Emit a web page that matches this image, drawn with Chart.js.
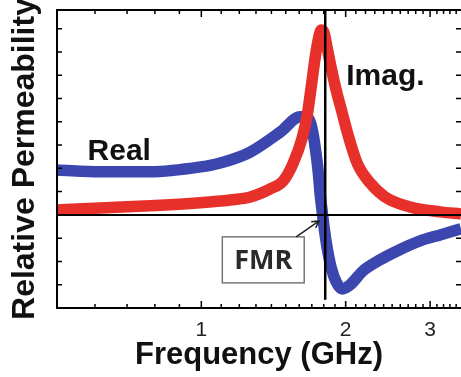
<!DOCTYPE html>
<html>
<head>
<meta charset="utf-8">
<script src="https://cdn.jsdelivr.net/npm/chart.js@4.4.1/dist/chart.umd.min.js"></script>
<style>
html, body { margin: 0; padding: 0; background: #fff; }
#wrap { width: 461px; height: 377px; position: relative; }
</style>
</head>
<body>
<div id="wrap"><canvas id="fmrChart"></canvas></div>
<script>
// Values (frequency in GHz, permeability in tick units)
const realFreq = [0.501, 0.616, 0.783, 0.995, 1.095, 1.265, 1.461, 1.608, 1.654, 1.687, 1.712, 1.736, 1.753, 1.770, 1.787, 1.804, 1.830, 1.866, 1.911, 1.967, 2.044, 2.175, 2.360, 2.561, 2.859, 3.147, 3.48];
const realPerm = [1.93, 1.85, 1.85, 2.06, 2.23, 2.70, 3.56, 4.21, 4.21, 3.99, 3.43, 2.58, 1.85, 0.86, 0.13, -0.56, -1.42, -2.27, -2.88, -3.18, -3.00, -2.40, -1.93, -1.55, -1.12, -0.86, -0.60];

const imagFreq = [0.501, 0.616, 0.783, 0.995, 1.149, 1.265, 1.393, 1.482, 1.555, 1.623, 1.663, 1.695, 1.728, 1.753, 1.778, 1.804, 1.830, 1.866, 1.911, 1.967, 2.015, 2.113, 2.249, 2.417, 2.725, 3.147, 3.48];
const imagPerm = [0.21, 0.30, 0.39, 0.52, 0.64, 0.77, 1.12, 1.46, 2.23, 3.30, 4.29, 5.49, 6.78, 7.51, 7.94, 7.81, 7.17, 6.31, 5.36, 4.38, 3.56, 2.23, 1.37, 0.77, 0.34, 0.13, 0.04];

const xTickLabels = [1, 2, 3];
const xMinorTicks = [0.6, 0.7, 0.8, 0.9, 1.1, 1.2, 1.3, 1.4, 1.5, 1.6, 1.7, 1.8, 1.9,
                     2.1, 2.2, 2.3, 2.4, 2.5, 2.6, 2.7, 2.8, 2.9, 3.1, 3.2, 3.3, 3.4];
const yTicks = [-3, -2, -1, 0, 1, 2, 3, 4, 5, 6, 7, 8];
const fmrFreq = 1.813;

const FONT = '"Liberation Sans", Arial, sans-serif';

function toPoints(xs, ys) {
    return xs.map((x, i) => ({ x: x, y: ys[i] }));
}

// Frame, inward ticks, reference lines and labels
const decorations = {
    id: 'decorations',
    afterDatasetsDraw(chart) {
        const ctx = chart.ctx;
        const area = chart.chartArea;
        const xs = chart.scales.x;
        const ys = chart.scales.y;
        ctx.save();
        ctx.strokeStyle = '#000';

        // zero line
        const y0 = ys.getPixelForValue(0);
        ctx.lineWidth = 2;
        ctx.beginPath();
        ctx.moveTo(area.left, y0);
        ctx.lineTo(area.right, y0);
        ctx.stroke();

        // FMR line
        const xf = xs.getPixelForValue(fmrFreq);
        ctx.lineWidth = 2.5;
        ctx.beginPath();
        ctx.moveTo(xf, area.top);
        ctx.lineTo(xf, ys.getPixelForValue(-3.65));
        ctx.stroke();

        // frame (right edge sits just off the canvas)
        ctx.lineWidth = 2;
        ctx.beginPath();
        ctx.moveTo(area.right + 2, area.top);
        ctx.lineTo(area.left, area.top);
        ctx.lineTo(area.left, area.bottom);
        ctx.lineTo(area.right + 2, area.bottom);
        ctx.stroke();

        // ticks
        ctx.lineWidth = 1.5;
        ctx.beginPath();
        const xTick = (v, len) => {
            const p = xs.getPixelForValue(v);
            ctx.moveTo(p, area.bottom);
            ctx.lineTo(p, area.bottom - len);
            ctx.moveTo(p, area.top);
            ctx.lineTo(p, area.top + len);
        };
        xMinorTicks.forEach(v => xTick(v, 4));
        xTickLabels.forEach(v => xTick(v, 7));
        yTicks.forEach(v => {
            const p = ys.getPixelForValue(v);
            ctx.moveTo(area.left, p);
            ctx.lineTo(area.left + 5, p);
            ctx.moveTo(area.right, p);
            ctx.lineTo(area.right - 5, p);
        });
        ctx.stroke();

        // curve names
        ctx.fillStyle = '#111';
        ctx.font = 'bold 30px ' + FONT;
        ctx.textAlign = 'left';
        ctx.textBaseline = 'alphabetic';
        ctx.fillText('Real', xs.getPixelForValue(0.579), ys.getPixelForValue(2.36));
        ctx.fillText('Imag.', xs.getPixelForValue(2.005), ys.getPixelForValue(5.58));

        // FMR box
        const bl = xs.getPixelForValue(1.106), br = xs.getPixelForValue(1.639);
        const bt = ys.getPixelForValue(-0.944), bb = ys.getPixelForValue(-2.92);
        ctx.fillStyle = '#fff';
        ctx.fillRect(bl, bt, br - bl, bb - bt);
        ctx.strokeStyle = '#777';
        ctx.lineWidth = 1.5;
        ctx.strokeRect(bl, bt, br - bl, bb - bt);
        ctx.fillStyle = '#2a2a2a';
        ctx.font = 'bold 27px "Open Sans", "Noto Sans", sans-serif';
        ctx.textAlign = 'center';
        ctx.textBaseline = 'middle';
        ctx.fillText('FMR', (bl + br) / 2, (bt + bb) / 2 + 1);

        // arrow to the crossing
        const ax0 = xs.getPixelForValue(1.577), ay0 = ys.getPixelForValue(-0.944);
        const ax1 = xs.getPixelForValue(1.761), ay1 = ys.getPixelForValue(-0.258);
        const ang = Math.atan2(ay1 - ay0, ax1 - ax0);
        ctx.strokeStyle = '#222';
        ctx.lineWidth = 1.5;
        ctx.beginPath();
        ctx.moveTo(ax0, ay0);
        ctx.lineTo(ax1, ay1);
        ctx.moveTo(ax1 - 8 * Math.cos(ang - 0.5), ay1 - 8 * Math.sin(ang - 0.5));
        ctx.lineTo(ax1, ay1);
        ctx.lineTo(ax1 - 8 * Math.cos(ang + 0.5), ay1 - 8 * Math.sin(ang + 0.5));
        ctx.stroke();

        ctx.restore();
    }
};

const chart = new Chart(document.getElementById('fmrChart'), {
    type: 'scatter',
    data: {
        datasets: [
            {
                label: 'Imag.',
                data: toPoints(imagFreq, imagPerm),
                showLine: true,
                borderColor: '#e8302a',
                borderWidth: 11.5,
                pointRadius: 0,
                cubicInterpolationMode: 'monotone',
                borderJoinStyle: 'round',
                clip: 0,
                order: 0
            },
            {
                label: 'Real',
                data: toPoints(realFreq, realPerm),
                showLine: true,
                borderColor: '#3b46ae',
                borderWidth: 11.5,
                pointRadius: 0,
                cubicInterpolationMode: 'monotone',
                borderJoinStyle: 'round',
                clip: 0,
                order: 1
            }
        ]
    },
    options: {
        responsive: true,
        maintainAspectRatio: false,
        devicePixelRatio: 1,
        animation: false,
        layout: { padding: { top: 10, right: 0, bottom: 0, left: 0 } },
        plugins: {
            legend: { display: false },
            tooltip: { enabled: false }
        },
        scales: {
            x: {
                type: 'logarithmic',
                min: 0.5,
                max: 3.48,
                grid: { display: false, drawTicks: false },
                border: { display: false },
                afterBuildTicks: s => { s.ticks = xTickLabels.map(v => ({ value: v })); },
                afterFit: s => { s.height = 69; },
                ticks: {
                    autoSkip: false,
                    maxRotation: 0,
                    padding: 10,
                    color: '#222',
                    font: { family: FONT, size: 21 },
                    callback: v => (xTickLabels.includes(v) ? String(v) : '')
                },
                title: {
                    display: true,
                    text: 'Frequency (GHz)',
                    color: '#111',
                    font: { family: FONT, size: 31, weight: 'bold' },
                    padding: { top: 0, bottom: 3 }
                }
            },
            y: {
                min: -4,
                max: 8.8,
                grid: { display: false },
                border: { display: false },
                afterFit: s => { s.width = 57; },
                ticks: { display: false },
                title: {
                    display: true,
                    text: 'Relative Permeability',
                    color: '#111',
                    font: { family: FONT, size: 32, weight: 'bold' },
                    padding: { top: 6, bottom: 0 }
                }
            }
        }
    },
    plugins: [decorations]
});
</script>
</body>
</html>
